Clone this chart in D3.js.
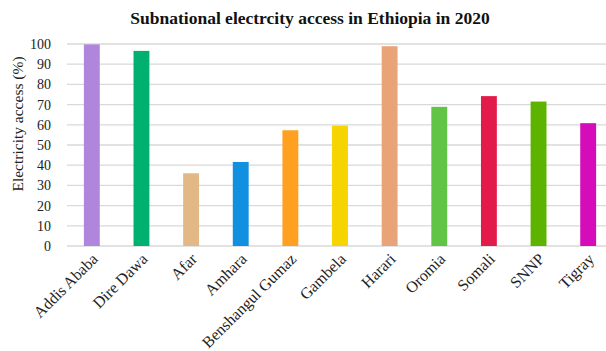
<!DOCTYPE html>
<html><head><meta charset="utf-8">
<script src="https://cdn.jsdelivr.net/npm/d3@7"></script>
<style>body{margin:0;background:#fff}svg{display:block}</style>
</head><body>
<svg id="c" width="606" height="351"></svg>
<script>
const categories = ["Addis Ababa","Dire Dawa","Afar","Amhara","Benshangul Gumaz","Gambela","Harari","Oromia","Somali","SNNP","Tigray"];
const values = [99.8, 96.6, 36.0, 41.6, 57.3, 59.6, 98.9, 68.9, 74.2, 71.5, 60.8];
const colors = ["#b085dc","#00b070","#e2b985","#1290e0","#ffa021","#f6d400","#e8a478","#62c446","#e31b4b","#5cb300","#d50cb9"];
const yTicks = [0,10,20,30,40,50,60,70,80,90,100];
const title = "Subnational electrcity access in Ethiopia in 2020";
const yTitle = "Electricity access (%)";

const svg = d3.select("#c");
const font = "'Liberation Serif', 'Times New Roman', serif";
const mLeft = 67, mRight = 613, mTop = 44, mBottom = 246;

const x = d3.scaleBand().domain(categories).range([mLeft, mRight]).paddingInner(0.68).paddingOuter(0.34);
const y = d3.scaleLinear().domain([0, 100]).range([mBottom, mTop]);

// gridlines
svg.append("g").selectAll("line").data(yTicks).join("line")
  .attr("x1", mLeft).attr("x2", mRight)
  .attr("y1", d => y(d)).attr("y2", d => y(d))
  .attr("stroke", "#d9d9d9").attr("stroke-width", 1.3);

// y axis tick labels
const yAxis = d3.axisLeft(y).tickValues(yTicks).tickSize(0).tickPadding(0);
const gy = svg.append("g").attr("transform", `translate(${mLeft - 16},0)`).call(yAxis);
gy.attr("font-family", null).attr("font-size", null);
gy.select(".domain").remove();
gy.selectAll("text").style("font-family", font).style("font-size", "14px").attr("fill", "#222");

// bars
svg.append("g").selectAll("rect").data(categories).join("rect")
  .attr("x", d => x(d)).attr("width", x.bandwidth())
  .attr("y", (d, i) => y(values[i])).attr("height", (d, i) => y(0) - y(values[i]))
  .attr("fill", (d, i) => colors[i]);

// x axis labels
const xAxis = d3.axisBottom(x).tickSize(0).tickPadding(0);
const gx = svg.append("g").attr("transform", `translate(0,${mBottom})`).call(xAxis);
gx.attr("font-family", null).attr("font-size", null);
gx.select(".domain").remove();
gx.selectAll("text")
  .style("font-family", font).style("font-size", "16px").attr("fill", "#222")
  .attr("text-anchor", "end").attr("dy", null).attr("y", 0)
  .attr("transform", "translate(7,14) rotate(-45)");

// title
svg.append("text").attr("x", 310).attr("y", 24).attr("text-anchor", "middle")
  .style("font-family", font).style("font-size", "17.5px").attr("font-weight", "bold").attr("fill", "#111")
  .text(title);

// y title
svg.append("text").attr("transform", `translate(23,124) rotate(-90)`)
  .attr("text-anchor", "middle").style("font-family", font).style("font-size", "15.5px").attr("fill", "#222")
  .text(yTitle);
</script>
</body></html>
